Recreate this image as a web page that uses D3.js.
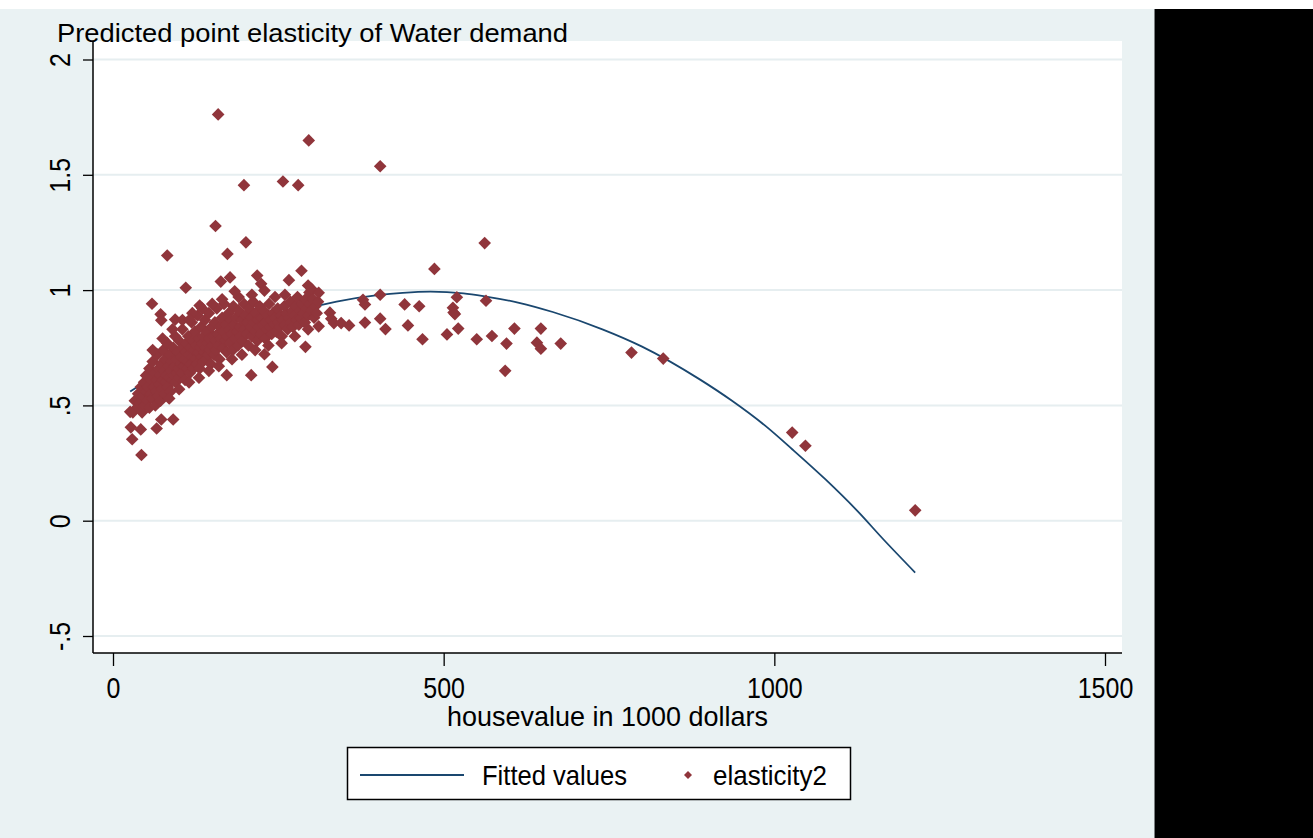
<!DOCTYPE html>
<html>
<head>
<meta charset="utf-8">
<script src="https://cdn.jsdelivr.net/npm/d3@7"></script>
<style>
  body { margin: 0; background: #ffffff; }
  text { font-family: "Liberation Sans", Arial, sans-serif; fill: #000000; }
</style>
</head>
<body>
<svg id="chart"></svg>
<script>
// ---- data ----
// fitted quadratic line (housevalue, fitted elasticity)
var fit_x = [26, 106, 192, 287, 338, 400, 438, 480, 530, 564, 614, 665, 740, 800, 886, 936, 987, 1027, 1077, 1128, 1163, 1213];
var fit_y = [0.56, 0.70, 0.82, 0.915, 0.95, 0.978, 0.988, 0.993, 0.986, 0.972, 0.945, 0.905, 0.83, 0.755, 0.615, 0.52, 0.41, 0.31, 0.18, 0.035, -0.075, -0.225];

// dense cloud of observations (housevalue, elasticity2)
var cluster_points = [
  [30,0.47],[33,0.52],[36,0.49],[38,0.55],[40,0.51],[42,0.58],[44,0.47],[45,0.54],[47,0.60],[48,0.50],
  [50,0.56],[50,0.63],[52,0.52],[53,0.58],[55,0.49],[55,0.66],[57,0.55],[58,0.61],[60,0.53],[60,0.69],
  [62,0.58],[63,0.64],[64,0.50],[65,0.56],[66,0.61],[67,0.72],[68,0.54],[69,0.66],[70,0.59],[71,0.63],
  [72,0.52],[73,0.68],[74,0.57],[75,0.61],[76,0.74],[77,0.65],[78,0.55],[79,0.70],[80,0.60],[81,0.63],
  [82,0.77],[83,0.58],[84,0.67],[85,0.62],[86,0.72],[87,0.56],[88,0.65],[89,0.69],[90,0.61],[91,0.75],
  [92,0.63],[93,0.67],[94,0.80],[95,0.60],[96,0.70],[97,0.64],[98,0.73],[99,0.66],[100,0.62],[100,0.78],
  [102,0.68],[103,0.71],[104,0.64],[105,0.83],[106,0.75],[107,0.67],[108,0.70],[109,0.61],[110,0.73],[111,0.77],
  [112,0.66],[113,0.69],[114,0.80],[115,0.72],[116,0.64],[117,0.75],[118,0.68],[119,0.86],[120,0.71],[121,0.78],
  [122,0.66],[123,0.74],[124,0.82],[125,0.70],[126,0.76],[127,0.68],[128,0.89],[129,0.73],[130,0.79],[131,0.66],
  [132,0.75],[133,0.84],[134,0.71],[135,0.77],[136,0.69],[137,0.80],[138,0.73],[139,0.87],[140,0.75],[141,0.70],
  [142,0.82],[143,0.77],[144,0.72],[145,0.90],[146,0.79],[147,0.74],[148,0.68],[149,0.84],[150,0.76],[152,0.80],
  [153,0.72],[154,0.86],[155,0.78],[156,0.74],[157,0.92],[158,0.81],[160,0.76],[161,0.70],[162,0.84],[163,0.79],
  [165,0.88],[166,0.75],[167,0.82],[168,0.94],[170,0.78],[171,0.85],[172,0.73],[173,0.80],[175,0.90],[176,0.83],
  [177,0.77],[178,0.87],[180,0.81],[181,0.74],[182,0.93],[183,0.85],[185,0.79],[186,0.88],[188,0.82],[189,0.76],
  [190,0.91],[192,0.84],[193,0.80],[195,0.87],[196,0.78],[198,0.94],[199,0.83],[200,0.89],[202,0.81],[203,0.86],
  [205,0.76],[206,0.92],[208,0.84],[209,0.88],[210,0.80],[212,0.95],[213,0.86],[215,0.82],[216,0.90],[218,0.78],
  [219,0.87],[220,0.84],[222,0.93],[223,0.81],[225,0.88],[227,0.85],[228,0.91],[230,0.79],[231,0.86],[233,0.83],
  [234,0.89],[236,0.94],[237,0.84],[239,0.87],[240,0.81],[242,0.90],[244,0.85],[245,0.88],[247,0.82],[249,0.92],
  [250,0.86],[252,0.84],[254,0.89],[255,0.80],[257,0.87],[259,0.93],[260,0.85],[262,0.90],[264,0.83],[266,0.88],
  [268,0.95],[269,0.86],[271,0.91],[272,0.84],[274,0.89],[276,0.93],[278,0.87],[279,0.97],[281,0.85],[283,0.91],
  [284,0.88],[286,0.94],[288,0.90],[290,0.86],[291,0.96],[293,0.92],[295,0.89],[297,0.99],[298,0.94],[300,0.91],
  [302,0.96],[304,0.88],[306,0.93],[308,0.90],[310,0.95],
  // upper and lower fringe of the cloud
  [60,0.74],[75,0.79],[90,0.83],[105,0.87],[120,0.90],[135,0.92],[150,0.94],[165,0.96],[190,0.97],[210,0.98],
  [245,0.97],[260,0.98],[85,0.53],[100,0.57],[115,0.60],[130,0.62],[145,0.65],[160,0.67],[180,0.70],[195,0.72],
  [215,0.74],[235,0.76],[255,0.77],[275,0.80],[295,0.83]
];

// scattered observations away from the cloud
var outlier_points = [
  [26,0.472],[27,0.405],[42,0.396],[66,0.40],[91,0.439],[73,0.439],[29,0.353],[43,0.285],
  [159,1.762],[296,1.649],[404,1.537],[257,1.471],[280,1.455],[198,1.455],[155,1.278],[201,1.207],
  [562,1.204],[173,1.157],[82,1.150],[486,1.092],[285,1.084],[218,1.063],[266,1.043],[177,1.055],
  [163,1.037],[224,1.027],[110,1.010],[229,0.998],[184,0.995],[295,1.020],[300,1.006],[311,0.988],
  [59,0.941],[131,0.933],[72,0.895],[73,0.869],[94,0.872],[116,0.872],[311,0.843],[291,0.754],
  [241,0.667],[229,0.722],[172,0.631],[209,0.631],
  [404,0.980],[520,0.969],[564,0.954],[378,0.958],[381,0.938],[441,0.938],[463,0.930],[514,0.923],
  [515,0.903],[517,0.896],[328,0.902],[330,0.876],[334,0.857],[345,0.857],[357,0.847],[381,0.859],
  [404,0.876],[412,0.831],[446,0.847],[468,0.787],[505,0.808],[522,0.833],[550,0.787],[573,0.801],
  [595,0.768],[593,0.650],[607,0.833],[647,0.833],[641,0.772],[647,0.746],[677,0.768],[784,0.729],
  [832,0.703],[1027,0.382],[1047,0.325],[1213,0.045]
];

var y_ticks = [-0.5, 0, 0.5, 1, 1.5, 2];
var y_tick_labels = ["-.5", "0", ".5", "1", "1.5", "2"];
var x_ticks = [0, 500, 1000, 1500];
var x_tick_labels = ["0", "500", "1000", "1500"];

// ---- page setup ----
var width = 1313, height = 838;
var region_color = "#eaf2f3";
var grid_color = "#e6eef0";
var navy = "#1a476f";
var maroon = "#90353b";

var svg = d3.select("#chart").attr("width", width).attr("height", height);

// graph region + black strip on the right
svg.append("rect").attr("x", 0).attr("y", 0).attr("width", width).attr("height", height).attr("fill", "#ffffff");
svg.append("rect").attr("x", 0).attr("y", 9).attr("width", 1154).attr("height", height - 9).attr("fill", region_color);
svg.append("rect").attr("x", 1155).attr("y", 9).attr("width", width - 1155).attr("height", height - 9).attr("fill", "#000000");
svg.append("line").attr("x1", 1154.5).attr("x2", 1154.5).attr("y1", 9).attr("y2", height)
    .attr("stroke", "#7a7f80").attr("stroke-width", 1);

// plot area
var plot_left = 93, plot_right = 1122, plot_top = 41, plot_bottom = 653;
svg.append("rect").attr("x", plot_left).attr("y", plot_top)
    .attr("width", plot_right - plot_left).attr("height", plot_bottom - plot_top)
    .attr("fill", "#ffffff");

var x_scale = d3.scaleLinear().domain([0, 1500]).range([113, 1105]);
var y_scale = d3.scaleLinear().domain([-0.5, 2]).range([636, 59.5]);

// horizontal grid lines
svg.append("g").selectAll("line")
    .data(y_ticks)
    .enter()
    .append("line")
    .attr("x1", plot_left).attr("x2", plot_right)
    .attr("y1", function (d) { return y_scale(d); })
    .attr("y2", function (d) { return y_scale(d); })
    .attr("stroke", grid_color).attr("stroke-width", 2);

// y axis
var y_axis = d3.axisLeft(y_scale).tickValues(y_ticks).tickSize(10).tickSizeOuter(0)
    .tickFormat(function (d, i) { return y_tick_labels[i]; });
var y_axis_g = svg.append("g").attr("transform", "translate(" + plot_left + ",0)").call(y_axis);
y_axis_g.select(".domain").remove();
y_axis_g.selectAll(".tick line").attr("stroke", "#000").attr("stroke-width", 1.3);
y_axis_g.selectAll(".tick text")
    .attr("x", 0).attr("y", 0).attr("dy", null)
    .attr("text-anchor", "middle")
    .attr("transform", "translate(-23,0) rotate(-90) scale(1,1.15)")
    .style("font-size", "25px");

// x axis
var x_axis = d3.axisBottom(x_scale).tickValues(x_ticks).tickSize(13).tickSizeOuter(0)
    .tickFormat(function (d, i) { return x_tick_labels[i]; });
var x_axis_g = svg.append("g").attr("transform", "translate(0," + plot_bottom + ")").call(x_axis);
x_axis_g.select(".domain").remove();
x_axis_g.selectAll(".tick line").attr("stroke", "#000").attr("stroke-width", 1.3);
x_axis_g.selectAll(".tick text")
    .attr("x", 0).attr("y", 0).attr("dy", null)
    .attr("text-anchor", "middle")
    .attr("transform", "translate(0,45) scale(1,1.15)")
    .style("font-size", "25px");

// axis lines
svg.append("line").attr("x1", plot_left).attr("x2", plot_left).attr("y1", plot_top + 1).attr("y2", plot_bottom)
    .attr("stroke", "#000").attr("stroke-width", 1.5);
svg.append("line").attr("x1", plot_left).attr("x2", plot_right).attr("y1", plot_bottom).attr("y2", plot_bottom)
    .attr("stroke", "#000").attr("stroke-width", 1.5);

// fitted line (drawn first, markers sit on top of it)
var fit_line = d3.line()
    .curve(d3.curveMonotoneX)
    .x(function (d) { return x_scale(d[0]); })
    .y(function (d) { return y_scale(d[1]); });
svg.append("path")
    .datum(d3.zip(fit_x, fit_y))
    .attr("d", fit_line)
    .attr("fill", "none")
    .attr("stroke", navy)
    .attr("stroke-width", 1.8);

// scatter markers (diamonds)
var diamond = d3.symbol().type(d3.symbolSquare).size(80);
var all_points = cluster_points.concat(outlier_points);
svg.append("g").selectAll("path")
    .data(all_points)
    .enter()
    .append("path")
    .attr("d", diamond)
    .attr("transform", function (d) {
        return "translate(" + x_scale(d[0]) + "," + y_scale(d[1]) + ") rotate(45)";
    })
    .attr("fill", maroon);

// title
svg.append("text")
    .attr("transform", "translate(57,42) scale(1,1.15)")
    .attr("textLength", 511).attr("lengthAdjust", "spacingAndGlyphs")
    .style("font-size", "23px")
    .text("Predicted point elasticity of Water demand");

// x axis title
svg.append("text")
    .attr("transform", "translate(447,726) scale(1,1.15)")
    .attr("textLength", 321).attr("lengthAdjust", "spacingAndGlyphs")
    .style("font-size", "24px")
    .text("housevalue in 1000 dollars");

// legend
var legend = svg.append("g");
legend.append("rect").attr("x", 347.5).attr("y", 747.5).attr("width", 503).attr("height", 52)
    .attr("fill", "#ffffff").attr("stroke", "#000").attr("stroke-width", 1.5);
legend.append("line").attr("x1", 360).attr("x2", 464).attr("y1", 775).attr("y2", 775)
    .attr("stroke", navy).attr("stroke-width", 1.8);
legend.append("text")
    .attr("transform", "translate(482,785) scale(1,1.15)")
    .attr("textLength", 145).attr("lengthAdjust", "spacingAndGlyphs")
    .style("font-size", "24px")
    .text("Fitted values");
legend.append("path")
    .attr("d", d3.symbol().type(d3.symbolSquare).size(32))
    .attr("transform", "translate(688,775) rotate(45)")
    .attr("fill", maroon);
legend.append("text")
    .attr("transform", "translate(713,785) scale(1,1.15)")
    .attr("textLength", 114).attr("lengthAdjust", "spacingAndGlyphs")
    .style("font-size", "24px")
    .text("elasticity2");
</script>
</body>
</html>
